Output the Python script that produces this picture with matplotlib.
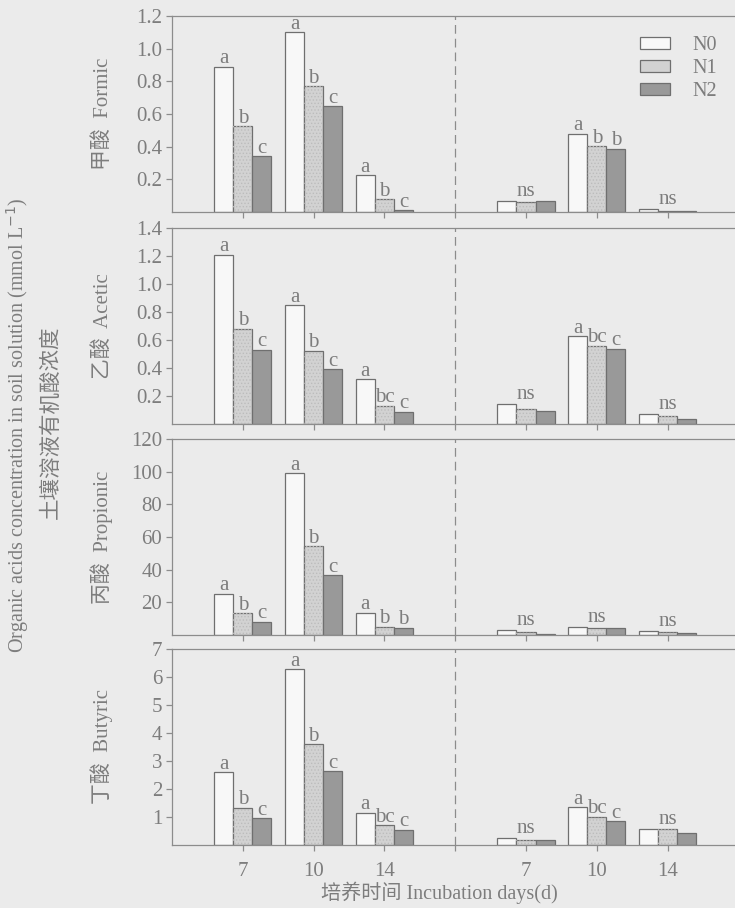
import matplotlib.pyplot as plt

plt.rcParams['font.family'] = ['Liberation Serif', 'Noto Sans CJK SC']
plt.rcParams['hatch.linewidth'] = 0.6

# data (mmol L-1), groups: 7, 10, 14 (left half) and 7, 10, 14 (right half)
tick_labels = ['7', '10', '14', '', '7', '10', '14']
treatments = ['N0', 'N1', 'N2']
acid_names = ['甲酸  Formic', '乙酸  Acetic', '丙酸  Propionic', '丁酸  Butyric']

formic_n0 = [0.89, 1.10, 0.225, 0.065, 0.478, 0.018]
formic_n1 = [0.525, 0.77, 0.078, 0.063, 0.402, 0.008]
formic_n2 = [0.34, 0.647, 0.01, 0.067, 0.388, 0.006]

acetic_n0 = [1.21, 0.847, 0.32, 0.145, 0.627, 0.074]
acetic_n1 = [0.68, 0.522, 0.129, 0.105, 0.56, 0.055]
acetic_n2 = [0.532, 0.391, 0.086, 0.093, 0.537, 0.033]

propionic_n0 = [25.4, 99.1, 13.5, 2.9, 5.1, 2.3]
propionic_n1 = [13.3, 54.2, 4.9, 1.6, 4.1, 2.0]
propionic_n2 = [8.0, 36.5, 4.5, 0.6, 4.1, 1.4]

butyric_n0 = [2.59, 6.27, 1.16, 0.24, 1.35, 0.56]
butyric_n1 = [1.32, 3.6, 0.70, 0.19, 1.01, 0.56]
butyric_n2 = [0.95, 2.63, 0.54, 0.17, 0.85, 0.42]

formic_sig = [['a', 'b', 'c'], ['a', 'b', 'c'], ['a', 'b', 'c'], ['ns'], ['a', 'b', 'b'], ['ns']]
acetic_sig = [['a', 'b', 'c'], ['a', 'b', 'c'], ['a', 'bc', 'c'], ['ns'], ['a', 'bc', 'c'], ['ns']]
propionic_sig = [['a', 'b', 'c'], ['a', 'b', 'c'], ['a', 'b', 'b'], ['ns'], ['ns'], ['ns']]
butyric_sig = [['a', 'b', 'c'], ['a', 'b', 'c'], ['a', 'bc', 'c'], ['ns'], ['a', 'bc', 'c'], ['ns']]

panels = [
    (formic_n0, formic_n1, formic_n2, formic_sig, 1.2, [0.2, 0.4, 0.6, 0.8, 1.0, 1.2], ['0.2', '0.4', '0.6', '0.8', '1.0', '1.2']),
    (acetic_n0, acetic_n1, acetic_n2, acetic_sig, 1.4, [0.2, 0.4, 0.6, 0.8, 1.0, 1.2, 1.4], ['0.2', '0.4', '0.6', '0.8', '1.0', '1.2', '1.4']),
    (propionic_n0, propionic_n1, propionic_n2, propionic_sig, 120, [20, 40, 60, 80, 100, 120], ['20', '40', '60', '80', '100', '120']),
    (butyric_n0, butyric_n1, butyric_n2, butyric_sig, 7, [1, 2, 3, 4, 5, 6, 7], ['1', '2', '3', '4', '5', '6', '7']),
]

group_x = [1, 2, 3, 5, 6, 7]
bar_w = 0.27
bg = '#ebebeb'
line_c = '#8c8c8c'
text_c = '#7d7d7d'
face_colors = ['#f8f8f8', '#d2d2d2', '#999999']

W, H = 735, 908
fig = plt.figure(figsize=(W / 100, H / 100), dpi=100)
fig.set_facecolor(bg)

tops = [16, 228, 439, 649]
ph = 196
left = 172
unit = 70.8
xmax = 7.95

for i, (n0, n1, n2, sig, ymax, yt, ytl) in enumerate(panels):
    ax = fig.add_axes([left / W, 1 - (tops[i] + ph) / H, xmax * unit / W, ph / H])
    ax.set_facecolor(bg)
    for j, (vals, fc) in enumerate(zip([n0, n1, n2], face_colors)):
        xs = [g + (j - 1) * bar_w for g in group_x]
        ax.bar(xs, vals, width=bar_w, color=fc, edgecolor='#6f6f6f', linewidth=0.9,
               label=treatments[j], zorder=2)
        if j == 1:
            ax.bar(xs, vals, width=bar_w, color='none', edgecolor='#bcbcbc', hatch='.....',
                   linewidth=0, zorder=2.5)
    # significance letters
    for k, g in enumerate(group_x):
        vals = [n0[k], n1[k], n2[k]]
        if sig[k] == ['ns']:
            ax.annotate('ns', (g, max(vals)), xytext=(0, 0), textcoords='offset points',
                        ha='center', va='bottom', fontsize=15, color=text_c)
        else:
            for j, s in enumerate(sig[k]):
                ax.annotate(s, (g + (j - 1) * bar_w, vals[j]), xytext=(0, -1), textcoords='offset points',
                            ha='center', va='bottom', fontsize=15, color=text_c)
    ax.axvline(4, color=line_c, lw=0.9, dashes=(7, 4), zorder=1)
    ax.set_xlim(0, xmax)
    ax.set_ylim(0, ymax)
    ax.set_yticks(yt)
    ax.set_yticklabels(ytl)
    ax.set_xticks([1, 2, 3, 4, 5, 6, 7])
    if i == 3:
        ax.set_xticklabels(tick_labels)
    else:
        ax.set_xticklabels([])
    ax.spines['right'].set_visible(False)
    for s in ['left', 'top', 'bottom']:
        ax.spines[s].set_color(line_c)
        ax.spines[s].set_linewidth(0.9)
    ax.tick_params(colors=line_c, labelcolor=text_c, labelsize=15, length=4, width=0.9, pad=3)
    ax.tick_params(axis='x', pad=8)
    ax.set_ylabel(acid_names[i], fontsize=15, color=text_c)
    ax.yaxis.set_label_coords(-0.105, 0.5)
    if i == 0:
        leg = ax.legend(loc='upper right', bbox_to_anchor=(1.0, 0.99), frameon=False, fontsize=14.5,
                        handlelength=1.5, handleheight=0.6, labelspacing=0.2, handletextpad=1.1)
        for t in leg.get_texts():
            t.set_color(text_c)

fig.text(18 / W, 1 - 425 / H, 'Organic acids concentration in soil solution (mmol L$^{-1}$)',
         rotation=90, ha='center', va='center', fontsize=14.5, color=text_c)
fig.text(52 / W, 1 - 422 / H, '土壤溶液有机酸浓度', rotation=90, ha='center', va='center',
         fontsize=15.5, color=text_c)
fig.text(439 / W, 1 - 893 / H, '培养时间 Incubation days(d)', ha='center', va='center',
         fontsize=14.5, color=text_c)

fig.savefig('out.png', dpi=100, facecolor=bg)
